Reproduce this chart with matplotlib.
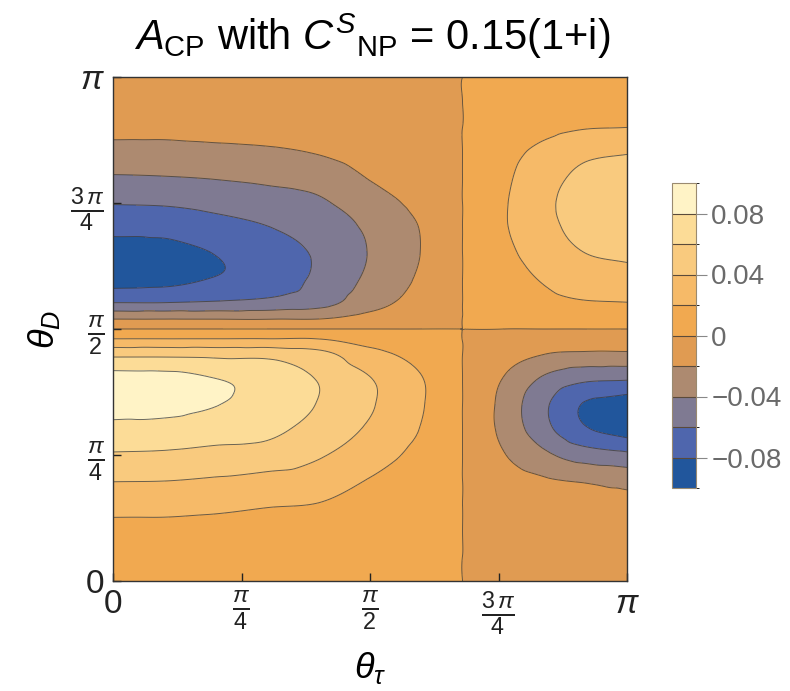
import numpy as np
import matplotlib
matplotlib.use("Agg")
import matplotlib.pyplot as plt
import matplotlib.tri as mtri
from matplotlib.cm import ScalarMappable
from matplotlib.colors import BoundaryNorm, ListedColormap

plt.rcParams["font.family"] = "Liberation Sans"
plt.rcParams["mathtext.fontset"] = "custom"
plt.rcParams["mathtext.rm"] = "Liberation Sans"
plt.rcParams["mathtext.it"] = "Liberation Sans:italic"
plt.rcParams["mathtext.bf"] = "Liberation Sans:bold"

# grid (angles in units of pi)
theta_tau = [0.0, 0.1, 0.2, 0.3, 0.4, 0.5, 0.6, 0.68, 0.76, 0.84, 0.92, 1.0]
theta_D = [0.0, 0.05, 0.1, 0.15, 0.2, 0.25, 0.3, 0.35, 0.4, 0.45, 0.475, 0.5,
           0.525, 0.55, 0.6, 0.65, 0.7, 0.75, 0.8, 0.85, 0.9, 0.95, 1.0]

# A_CP values, one row per theta_D, one column per theta_tau
acp = [
    [0.001, 0.001, 0.0009, 0.0008, 0.0007, 0.0004, 0.0002, 0, -0.0001, -0.0002, -0.0003, -0.0004],
    [0.004, 0.004, 0.0037, 0.0032, 0.0028, 0.0017, 0.0008, 0, -0.0005, -0.001, -0.0013, -0.0015],
    [0.014, 0.0138, 0.013, 0.011, 0.010, 0.006, 0.003, 0, -0.002, -0.004, -0.005, -0.006],
    [0.026, 0.026, 0.024, 0.021, 0.019, 0.011, 0.005, 0, -0.005, -0.009, -0.012, -0.014],
    [0.041, 0.0405, 0.038, 0.034, 0.030, 0.019, 0.009, 0, -0.011, -0.018, -0.022, -0.026],
    [0.058, 0.057, 0.054, 0.052, 0.042, 0.029, 0.014, 0, -0.019, -0.036, -0.050, -0.056],
    [0.074, 0.073, 0.069, 0.065, 0.052, 0.037, 0.019, 0, -0.025, -0.054, -0.078, -0.088],
    [0.087, 0.086, 0.0805, 0.073, 0.059, 0.042, 0.0215, 0, -0.026, -0.057, -0.082, -0.090],
    [0.088, 0.087, 0.0805, 0.073, 0.059, 0.041, 0.021, 0, -0.021, -0.044, -0.057, -0.059],
    [0.055, 0.055, 0.054, 0.054, 0.046, 0.026, 0.013, 0, -0.012, -0.020, -0.023, -0.023],
    [0.026, 0.026, 0.026, 0.026, 0.025, 0.014, 0.007, 0, -0.006, -0.010, -0.011, -0.011],
    [0, 0, 0, 0, 0, 0, 0, 0, 0, 0, 0, 0],
    [-0.026, -0.026, -0.026, -0.026, -0.025, -0.015, -0.007, 0, 0.004, 0.007, 0.009, 0.009],
    [-0.058, -0.058, -0.056, -0.053, -0.046, -0.027, -0.012, 0, 0.007, 0.014, 0.018, 0.019],
    [-0.088, -0.086, -0.079, -0.071, -0.056, -0.036, -0.017, 0, 0.011, 0.022, 0.030, 0.032],
    [-0.088, -0.087, -0.0795, -0.071, -0.057, -0.039, -0.0195, 0, 0.015, 0.029, 0.040, 0.044],
    [-0.075, -0.074, -0.068, -0.061, -0.050, -0.037, -0.019, 0, 0.018, 0.034, 0.047, 0.052],
    [-0.059, -0.058, -0.054, -0.049, -0.043, -0.029, -0.014, 0, 0.018, 0.036, 0.049, 0.054],
    [-0.042, -0.041, -0.039, -0.036, -0.032, -0.019, -0.009, 0, 0.016, 0.033, 0.045, 0.049],
    [-0.027, -0.027, -0.025, -0.023, -0.019, -0.011, -0.005, 0, 0.013, 0.026, 0.036, 0.039],
    [-0.014, -0.014, -0.013, -0.012, -0.010, -0.005, -0.0025, 0, 0.008, 0.014, 0.019, 0.020],
    [-0.005, -0.005, -0.0046, -0.0043, -0.0036, -0.0018, -0.0009, 0, 0.003, 0.0055, 0.0075, 0.008],
    [-0.0012, -0.0012, -0.0011, -0.001, -0.0009, -0.0004, -0.0002, 0, 0.0007, 0.0013, 0.0018, 0.002],
]

levels = [-0.10, -0.08, -0.06, -0.04, -0.02, 0.0, 0.02, 0.04, 0.06, 0.08, 0.10]
colors = ["#21569c", "#4f66ad", "#7f7a92", "#ad8a70", "#e09b52",
          "#f1a950", "#f6ba68", "#f9ca7e", "#fcdc97", "#fff3c6"]
cbar_ticks = [-0.08, -0.04, 0.0, 0.04, 0.08]
cbar_labels = ["\u22120.08", "\u22120.04", "0", "0.04", "0.08"]
tick_labels = ["0", r"$\frac{\pi}{4}$", r"$\frac{\pi}{2}$", r"$\frac{3\,\pi}{4}$", r"$\pi$"]

fig = plt.figure(figsize=(7.9, 6.91), dpi=100)
ax = fig.add_axes([113 / 790, 110 / 691, 514 / 790, 504 / 691])
cax = fig.add_axes([672 / 790, 203 / 691, 24 / 790, 305 / 691])

tt, dd = np.meshgrid(np.array(theta_tau) * np.pi, np.array(theta_D) * np.pi)
tri = mtri.Triangulation(tt.ravel(), dd.ravel())
z = np.array(acp).ravel()
interp = mtri.CubicTriInterpolator(tri, z, kind="geom")
refiner = mtri.UniformTriRefiner(tri)
tri_f, z_f = refiner.refine_field(z, triinterpolator=interp, subdiv=4)

ax.tricontourf(tri_f, z_f, levels=levels, colors=colors, extend="both")
ax.tricontour(tri_f, z_f, levels=levels[1:-1], colors="#3a3a3a",
              linewidths=0.7, alpha=0.75, linestyles="solid")

ax.set_xlim(0, np.pi)
ax.set_ylim(0, np.pi)
ticks = [0, np.pi / 4, np.pi / 2, 3 * np.pi / 4, np.pi]
ax.set_xticks(ticks)
ax.set_yticks(ticks)
ax.set_xticklabels(tick_labels)
ax.set_yticklabels(tick_labels)
ax.tick_params(direction="in", length=6, width=1, labelsize=24, pad=6,
               top=False, right=False, colors="#222222")
for s in ax.spines.values():
    s.set_linewidth(1.0)
    s.set_color("#333333")

ax.set_xlabel(r"$\theta_\tau$", fontsize=26, labelpad=9)
ax.set_ylabel(r"$\theta_D$", fontsize=26, labelpad=6)

fig.text(372 / 790, 655 / 691, r"$A_{\mathrm{CP}}$ with $C^{S}{}_{\mathrm{NP}}$ = 0.15(1+i)",
         ha="center", va="center", fontsize=30)

sm = ScalarMappable(norm=BoundaryNorm(levels, len(colors)), cmap=ListedColormap(colors))
cb = fig.colorbar(sm, cax=cax, drawedges=True)
cb.set_ticks(cbar_ticks)
cb.set_ticklabels(cbar_labels)
cb.dividers.set_color("#5a4a3a")
cb.dividers.set_linewidth(0.8)
cb.outline.set_edgecolor("#9a8a70")
cb.outline.set_linewidth(0.8)
cax.tick_params(length=8, width=0.8, colors="#888888", labelsize=20, pad=3)
for t in cax.get_yticklabels():
    t.set_color("#6a6a6a")

fig.savefig("out.png", dpi=100)
